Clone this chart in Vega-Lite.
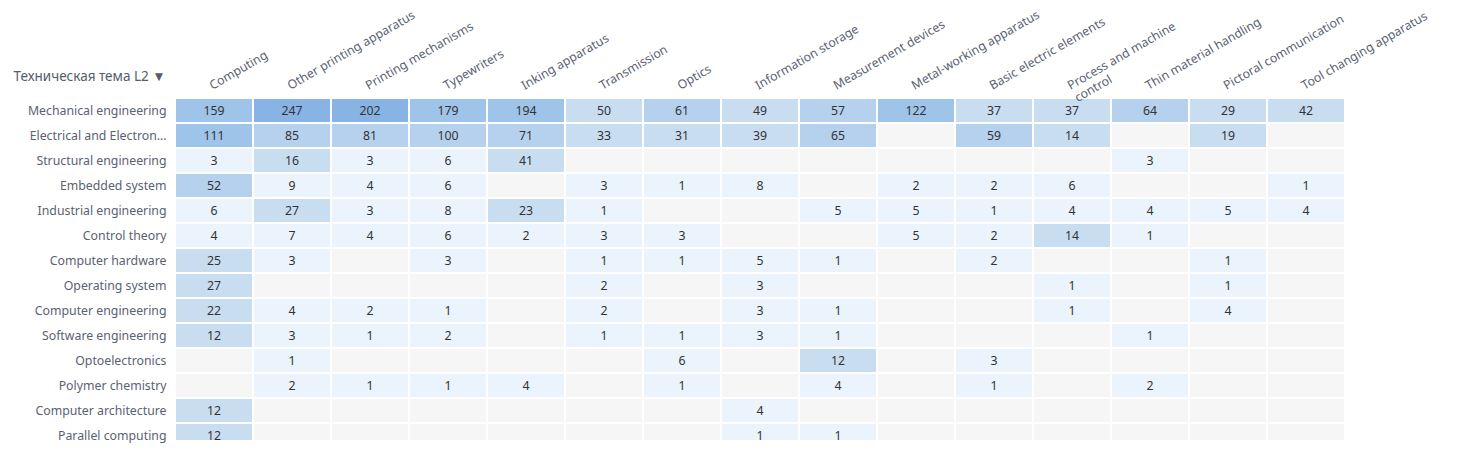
{
  "$schema": "https://vega.github.io/schema/vega-lite/v6.json",
  "autosize": {"type": "none"},
  "padding": {"left": 175, "top": 98, "right": 117, "bottom": 10},
  "width": 1170,
  "height": 342,
  "background": "white",
  "config": {
    "view": {"stroke": null},
    "font": "Noto Sans",
    "axis": {"domain": false, "ticks": false, "grid": false, "labelFont": "Noto Sans", "labelFontSize": 12.3, "labelColor": "#5a6172"}
  },
  "data": {
    "values": [
      {"topic": "Mechanical engineering", "Computing": 159, "Other printing apparatus": 247, "Printing mechanisms": 202, "Typewriters": 179, "Inking apparatus": 194, "Transmission": 50, "Optics": 61, "Information storage": 49, "Measurement devices": 57, "Metal-working apparatus": 122, "Basic electric elements": 37, "Process and machine control": 37, "Thin material handling": 64, "Pictoral communication": 29, "Tool changing apparatus": 42},
      {"topic": "Electrical and Electronic engineering", "Computing": 111, "Other printing apparatus": 85, "Printing mechanisms": 81, "Typewriters": 100, "Inking apparatus": 71, "Transmission": 33, "Optics": 31, "Information storage": 39, "Measurement devices": 65, "Metal-working apparatus": null, "Basic electric elements": 59, "Process and machine control": 14, "Thin material handling": null, "Pictoral communication": 19, "Tool changing apparatus": null},
      {"topic": "Structural engineering", "Computing": 3, "Other printing apparatus": 16, "Printing mechanisms": 3, "Typewriters": 6, "Inking apparatus": 41, "Transmission": null, "Optics": null, "Information storage": null, "Measurement devices": null, "Metal-working apparatus": null, "Basic electric elements": null, "Process and machine control": null, "Thin material handling": 3, "Pictoral communication": null, "Tool changing apparatus": null},
      {"topic": "Embedded system", "Computing": 52, "Other printing apparatus": 9, "Printing mechanisms": 4, "Typewriters": 6, "Inking apparatus": null, "Transmission": 3, "Optics": 1, "Information storage": 8, "Measurement devices": null, "Metal-working apparatus": 2, "Basic electric elements": 2, "Process and machine control": 6, "Thin material handling": null, "Pictoral communication": null, "Tool changing apparatus": 1},
      {"topic": "Industrial engineering", "Computing": 6, "Other printing apparatus": 27, "Printing mechanisms": 3, "Typewriters": 8, "Inking apparatus": 23, "Transmission": 1, "Optics": null, "Information storage": null, "Measurement devices": 5, "Metal-working apparatus": 5, "Basic electric elements": 1, "Process and machine control": 4, "Thin material handling": 4, "Pictoral communication": 5, "Tool changing apparatus": 4},
      {"topic": "Control theory", "Computing": 4, "Other printing apparatus": 7, "Printing mechanisms": 4, "Typewriters": 6, "Inking apparatus": 2, "Transmission": 3, "Optics": 3, "Information storage": null, "Measurement devices": null, "Metal-working apparatus": 5, "Basic electric elements": 2, "Process and machine control": 14, "Thin material handling": 1, "Pictoral communication": null, "Tool changing apparatus": null},
      {"topic": "Computer hardware", "Computing": 25, "Other printing apparatus": 3, "Printing mechanisms": null, "Typewriters": 3, "Inking apparatus": null, "Transmission": 1, "Optics": 1, "Information storage": 5, "Measurement devices": 1, "Metal-working apparatus": null, "Basic electric elements": 2, "Process and machine control": null, "Thin material handling": null, "Pictoral communication": 1, "Tool changing apparatus": null},
      {"topic": "Operating system", "Computing": 27, "Other printing apparatus": null, "Printing mechanisms": null, "Typewriters": null, "Inking apparatus": null, "Transmission": 2, "Optics": null, "Information storage": 3, "Measurement devices": null, "Metal-working apparatus": null, "Basic electric elements": null, "Process and machine control": 1, "Thin material handling": null, "Pictoral communication": 1, "Tool changing apparatus": null},
      {"topic": "Computer engineering", "Computing": 22, "Other printing apparatus": 4, "Printing mechanisms": 2, "Typewriters": 1, "Inking apparatus": null, "Transmission": 2, "Optics": null, "Information storage": 3, "Measurement devices": 1, "Metal-working apparatus": null, "Basic electric elements": null, "Process and machine control": 1, "Thin material handling": null, "Pictoral communication": 4, "Tool changing apparatus": null},
      {"topic": "Software engineering", "Computing": 12, "Other printing apparatus": 3, "Printing mechanisms": 1, "Typewriters": 2, "Inking apparatus": null, "Transmission": 1, "Optics": 1, "Information storage": 3, "Measurement devices": 1, "Metal-working apparatus": null, "Basic electric elements": null, "Process and machine control": null, "Thin material handling": 1, "Pictoral communication": null, "Tool changing apparatus": null},
      {"topic": "Optoelectronics", "Computing": null, "Other printing apparatus": 1, "Printing mechanisms": null, "Typewriters": null, "Inking apparatus": null, "Transmission": null, "Optics": 6, "Information storage": null, "Measurement devices": 12, "Metal-working apparatus": null, "Basic electric elements": 3, "Process and machine control": null, "Thin material handling": null, "Pictoral communication": null, "Tool changing apparatus": null},
      {"topic": "Polymer chemistry", "Computing": null, "Other printing apparatus": 2, "Printing mechanisms": 1, "Typewriters": 1, "Inking apparatus": 4, "Transmission": null, "Optics": 1, "Information storage": null, "Measurement devices": 4, "Metal-working apparatus": null, "Basic electric elements": 1, "Process and machine control": null, "Thin material handling": 2, "Pictoral communication": null, "Tool changing apparatus": null},
      {"topic": "Computer architecture", "Computing": 12, "Other printing apparatus": null, "Printing mechanisms": null, "Typewriters": null, "Inking apparatus": null, "Transmission": null, "Optics": null, "Information storage": 4, "Measurement devices": null, "Metal-working apparatus": null, "Basic electric elements": null, "Process and machine control": null, "Thin material handling": null, "Pictoral communication": null, "Tool changing apparatus": null},
      {"topic": "Parallel computing", "Computing": 12, "Other printing apparatus": null, "Printing mechanisms": null, "Typewriters": null, "Inking apparatus": null, "Transmission": null, "Optics": null, "Information storage": 1, "Measurement devices": 1, "Metal-working apparatus": null, "Basic electric elements": null, "Process and machine control": null, "Thin material handling": null, "Pictoral communication": null, "Tool changing apparatus": null}
    ]
  },
  "transform": [
    {"fold": ["Computing", "Other printing apparatus", "Printing mechanisms", "Typewriters", "Inking apparatus", "Transmission", "Optics", "Information storage", "Measurement devices", "Metal-working apparatus", "Basic electric elements", "Process and machine control", "Thin material handling", "Pictoral communication", "Tool changing apparatus"], "as": ["cat", "n"]}
  ],
  "encoding": {
    "x": {
      "field": "cat", "type": "nominal",
      "sort": ["Computing", "Other printing apparatus", "Printing mechanisms", "Typewriters", "Inking apparatus", "Transmission", "Optics", "Information storage", "Measurement devices", "Metal-working apparatus", "Basic electric elements", "Process and machine control", "Thin material handling", "Pictoral communication", "Tool changing apparatus"],
      "scale": {"paddingInner": 0, "paddingOuter": 0},
      "axis": {"orient": "top", "title": null, "labelAngle": -30, "labelPadding": 6, "labelLimit": 0,
        "labelExpr": "datum.value == 'Process and machine control' ? ['Process and machine', 'control'] : datum.label"}
    },
    "y": {
      "field": "topic", "type": "nominal",
      "sort": ["Mechanical engineering", "Electrical and Electronic engineering", "Structural engineering", "Embedded system", "Industrial engineering", "Control theory", "Computer hardware", "Operating system", "Computer engineering", "Software engineering", "Optoelectronics", "Polymer chemistry", "Computer architecture", "Parallel computing"],
      "scale": {"paddingInner": 0, "paddingOuter": 0, "range": [0, 350]},
      "axis": {"title": "Техническая тема L2 ▼", "labelPadding": 9, "labelLimit": 139,
        "titleAngle": 0, "titleX": -162, "titleY": -22, "titleAlign": "left", "titleBaseline": "middle",
        "titleFont": "Noto Sans", "titleFontSize": 13.5, "titleFontWeight": "normal", "titleColor": "#555c6b"}
    }
  },
  "layer": [
    {"mark": {"type": "rect", "color": "#f6f6f7", "stroke": "white", "strokeWidth": 2, "clip": true}},
    {
      "transform": [{"filter": "datum.n != null"}],
      "mark": {"type": "rect", "stroke": "white", "strokeWidth": 2, "clip": true},
      "encoding": {
        "color": {"field": "n", "type": "quantitative", "legend": null,
          "scale": {"type": "threshold", "domain": [10, 51, 105, 200], "range": ["#ebf3fc", "#c9ddf1", "#b5d1ee", "#9ec4ea", "#87b4e5"]}}
      }
    },
    {
      "transform": [{"filter": "datum.n != null"}],
      "mark": {"type": "text", "fontSize": 12.3, "color": "#333333", "font": "Noto Sans", "clip": true},
      "encoding": {"text": {"field": "n", "type": "quantitative"}}
    }
  ]
}
